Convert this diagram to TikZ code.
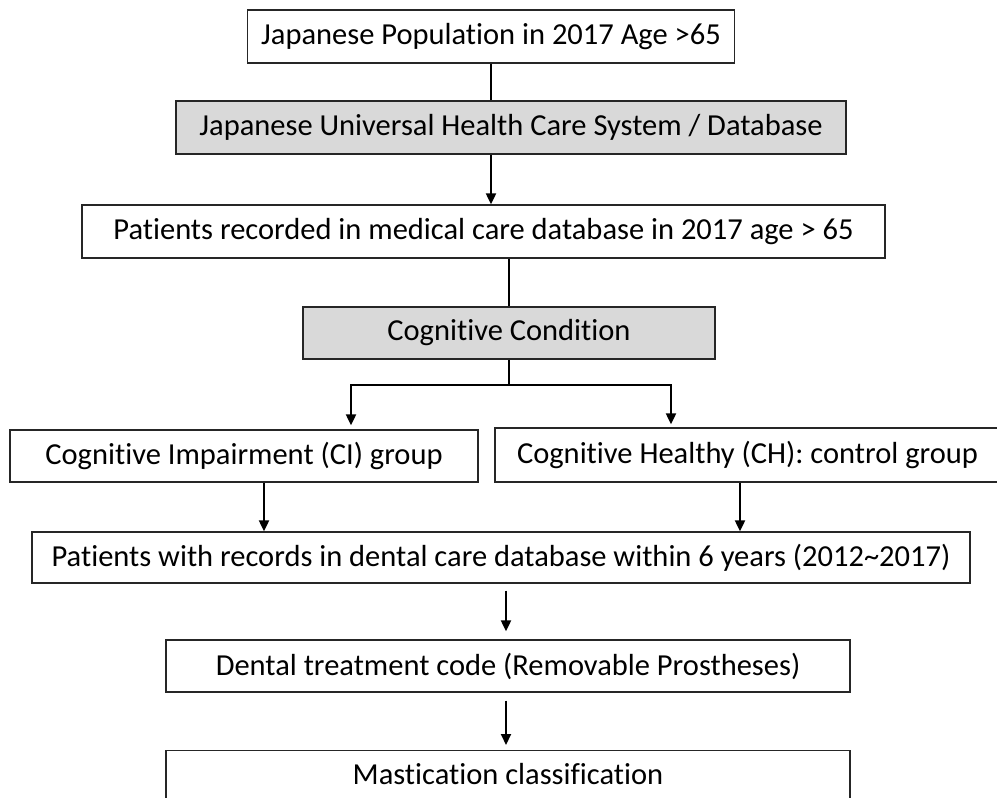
\documentclass[tikz,border=0pt]{standalone}
\usepackage{fontspec}
\setmainfont{Carlito}[Ligatures=NoCommon]
\usetikzlibrary{arrows.meta}
\begin{document}
\begin{tikzpicture}[x=1pt,y=-1pt,
  box/.style={draw=black!85,line width=1.3pt,rectangle,inner sep=0pt,font=\fontsize{30.5}{34}\selectfont,text=black},
  graybox/.style={box,fill=black!15},
  conn/.style={line width=2pt,black},
  arr/.style={conn,-{Triangle[length=11pt,width=10pt]}}]
\useasboundingbox (0,0) rectangle (997,798);
\clip (0,0) rectangle (997,798);
\node[box,minimum width=487,minimum height=53] (n1) at (491,36.5) {Japanese Population in 2017 Age >65};
\node[graybox,minimum width=670,minimum height=53] (n2) at (511,127.5) {Japanese Universal Health Care System / Database};
\node[box,minimum width=803,minimum height=53] (n3) at (483.5,231.5) {Patients recorded in medical care database in 2017 age > 65};
\node[graybox,minimum width=412,minimum height=52] (n4) at (509,333) {Cognitive Condition};
\node[box,minimum width=468,minimum height=52] (n5) at (244,456) {Cognitive Impairment (CI) group};
\node[box,minimum width=505,minimum height=54] (n6) at (747.5,455) {Cognitive Healthy (CH): control group};
\node[box,minimum width=938,minimum height=51] (n7) at (501,557.5) {Patients with records in dental care database within 6 years (2012\textasciitilde2017)};
\node[box,minimum width=684,minimum height=52] (n8) at (508,666) {Dental treatment code (Removable Prostheses)};
\node[box,minimum width=684,minimum height=60,anchor=north] (n9) at (508,750) {};
\node[font=\fontsize{30.5}{34}\selectfont,text=black] (t9) at (508,774) {Mastication classification};
\draw[conn] (n1.south) -- (n1.south |- n2.north);
\draw[arr] (n1.south |- n2.south) -- (n1.south |- n3.north);
\draw[conn] (n4.north |- n3.south) -- (n4.north);
\coordinate (bl) at (351,385);
\coordinate (brr) at (671,385);
\draw[conn] (n4.south) -- (n4.south |- bl);
\draw[conn,line cap=rect] (bl) -- (brr);
\draw[arr,shorten >=4pt] (bl) -- (bl |- n5.north);
\draw[arr,shorten >=3pt] (brr) -- (brr |- n6.north);
\draw[arr] ([xshift=20]n5.south) -- ([xshift=20]n5.south |- n7.north);
\draw[arr] ([xshift=-7.5]n6.south) -- ([xshift=-7.5]n6.south |- n7.north);
\draw[arr,shorten <=7pt,shorten >=8pt] ([xshift=-2]n7.south -| n8.north) -- ([xshift=-2]n8.north);
\draw[arr,shorten <=8pt,shorten >=5pt] ([xshift=-2]n8.south) -- ([xshift=-2]n9.north);
\end{tikzpicture}
\end{document}
